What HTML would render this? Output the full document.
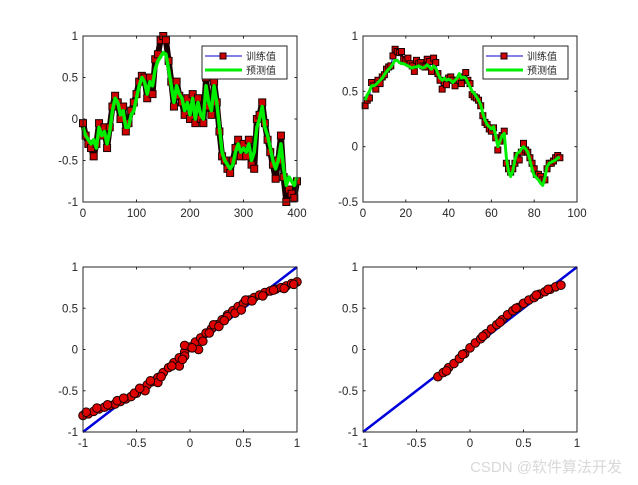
<!DOCTYPE html>
<html><head><meta charset="utf-8">
<style>
html,body{margin:0;padding:0;background:#fff;}
svg{display:block;font-family:"Liberation Sans","Noto Sans CJK SC",sans-serif;}
</style></head>
<body>
<svg id="fig" width="638" height="485" viewBox="0 0 638 485">
<rect width="638" height="485" fill="#fff"/>
<text x="622" y="472" text-anchor="end" font-size="15" fill="#d8d8d8">CSDN @软件算法开发</text>
</svg>
<script>
// ---- data ----
const tlT = [0,5,10,15,20,25,30,35,40,45,50,55,60,65,70,75,80,85,90,95,100,105,110,115,120,125,130,135,140,145,150,155,160,165,170,175,180,185,190,195,200,205,210,215,220,225,230,235,240,245,250,255,260,265,270,275,280,285,290,295,300,305,310,315,320,325,330,335,340,345,350,355,360,365,370,375,380,385,390,395,400];
const tlActual = [-0.05,-0.2,-0.3,-0.35,-0.45,-0.3,-0.05,-0.2,-0.1,-0.35,-0.1,0.15,0.28,0.2,0.0,0.15,-0.15,-0.05,0.1,0.2,0.3,0.45,0.52,0.5,0.25,0.5,0.3,0.72,0.78,0.95,1.0,0.95,0.7,0.45,0.15,0.45,0.28,0.2,0.05,0.25,0.0,0.3,-0.05,0.25,0.0,-0.05,0.5,0.15,0.05,0.45,0.2,-0.15,-0.45,-0.5,-0.6,-0.65,-0.5,-0.35,-0.25,-0.45,-0.3,-0.45,-0.25,-0.55,-0.6,0.0,0.05,0.2,-0.05,-0.25,-0.4,-0.55,-0.72,-0.5,-0.2,-0.7,-1.0,-0.85,-0.9,-0.95,-0.75];
const tlPred = [-0.1,-0.2,-0.25,-0.3,-0.25,-0.35,-0.1,-0.2,-0.15,-0.3,-0.15,0.1,0.25,0.2,0.05,0.1,-0.1,-0.1,0.05,0.1,0.25,0.4,0.5,0.45,0.3,0.45,0.4,0.6,0.7,0.75,0.8,0.78,0.6,0.4,0.2,0.4,0.3,0.25,0.1,0.2,0.05,0.25,0.0,0.2,0.05,0.0,0.4,0.2,0.1,0.4,0.2,-0.1,-0.4,-0.5,-0.55,-0.6,-0.55,-0.4,-0.3,-0.4,-0.35,-0.4,-0.3,-0.5,-0.4,-0.1,0.0,0.15,-0.1,-0.2,-0.35,-0.5,-0.6,-0.5,-0.3,-0.6,-0.8,-0.7,-0.75,-0.8,-0.7];
const trActual = [0.37,0.42,0.44,0.58,0.55,0.52,0.6,0.57,0.63,0.65,0.7,0.72,0.73,0.82,0.88,0.86,0.85,0.86,0.79,0.78,0.8,0.75,0.73,0.68,0.78,0.75,0.76,0.73,0.72,0.79,0.77,0.68,0.8,0.76,0.66,0.6,0.52,0.58,0.56,0.62,0.63,0.6,0.55,0.6,0.6,0.57,0.63,0.67,0.6,0.57,0.47,0.45,0.44,0.42,0.37,0.28,0.22,0.2,0.16,0.14,0.17,0.08,-0.03,0.05,0.1,0.14,-0.15,-0.2,-0.23,-0.2,-0.15,-0.08,-0.12,-0.05,0.03,-0.03,-0.05,-0.1,-0.15,-0.2,-0.25,-0.25,-0.27,-0.3,-0.3,-0.2,-0.15,-0.15,-0.13,-0.1,-0.08,-0.1];
const trPred = [0.42,0.47,0.5,0.55,0.55,0.56,0.58,0.6,0.62,0.65,0.68,0.7,0.72,0.75,0.78,0.78,0.76,0.75,0.75,0.74,0.73,0.72,0.71,0.72,0.72,0.73,0.72,0.71,0.72,0.74,0.72,0.7,0.73,0.71,0.66,0.62,0.6,0.62,0.6,0.61,0.6,0.58,0.6,0.62,0.66,0.62,0.63,0.62,0.58,0.54,0.5,0.48,0.45,0.42,0.38,0.3,0.24,0.2,0.18,0.16,0.18,0.1,0.0,0.05,0.1,0.12,-0.1,-0.22,-0.27,-0.22,-0.12,-0.06,-0.05,-0.02,0.0,-0.02,-0.05,-0.12,-0.2,-0.26,-0.28,-0.3,-0.33,-0.35,-0.28,-0.18,-0.15,-0.14,-0.13,-0.12,-0.1,-0.1];
const blX = [-1,-0.95,-0.9,-0.85,-0.8,-0.75,-0.7,-0.65,-0.6,-0.55,-0.5,-0.45,-0.4,-0.35,-0.3,-0.25,-0.2,-0.15,-0.1,-0.05,0,0.05,0.1,0.15,0.2,0.25,0.3,0.35,0.4,0.45,0.5,0.55,0.6,0.65,0.7,0.75,0.8,0.85,0.9,0.95,1.0,-0.42,-0.3,-0.1,-0.05,0.08,0.22,0.35,0.52,-0.68,-0.05,-0.97,-0.87,-0.77,-0.62,-0.52,-0.47,-0.37,-0.27,-0.17,-0.07,0.02,0.12,0.18,0.27,0.32,0.42,0.48,0.58,0.68,0.78,0.88,0.97];
const blY = [-0.8,-0.78,-0.75,-0.72,-0.7,-0.68,-0.66,-0.63,-0.6,-0.57,-0.53,-0.48,-0.43,-0.39,-0.34,-0.28,-0.22,-0.16,-0.1,-0.03,0.03,0.09,0.14,0.2,0.25,0.3,0.36,0.42,0.47,0.52,0.56,0.6,0.63,0.66,0.69,0.71,0.73,0.75,0.77,0.8,0.82,-0.5,-0.4,-0.2,0.05,0.0,0.3,0.4,0.6,-0.62,-0.08,-0.76,-0.71,-0.67,-0.59,-0.53,-0.47,-0.38,-0.33,-0.2,-0.12,0.02,0.1,0.2,0.28,0.35,0.44,0.48,0.59,0.65,0.72,0.74,0.79];
const brX = [-0.3,-0.25,-0.2,-0.15,-0.1,-0.05,0,0.05,0.1,0.15,0.2,0.25,0.3,0.35,0.4,0.45,0.5,0.55,0.6,0.65,0.7,0.75,0.8,0.85,-0.22,-0.07,0.12,0.28,0.43,0.62,0.73];
const brY = [-0.33,-0.28,-0.22,-0.17,-0.11,-0.05,0.02,0.08,0.13,0.19,0.25,0.3,0.36,0.42,0.47,0.51,0.56,0.6,0.63,0.67,0.7,0.73,0.76,0.78,-0.26,-0.06,0.16,0.33,0.5,0.66,0.73];
const tlXTicks = [0,100,200,300,400];
const tlYTicks = [-1,-0.5,0,0.5,1];
const trXTicks = [0,20,40,60,80,100];
const trYTicks = [-0.5,0,0.5,1];
const bXTicks = [-1,-0.5,0,0.5,1];
const bYTicks = [-1,-0.5,0,0.5,1];

const NS='http://www.w3.org/2000/svg';
const svg=document.getElementById('fig');
function mk(tag,attrs,parent){const e=document.createElementNS(NS,tag);for(const k in attrs)e.setAttribute(k,attrs[k]);(parent||svg).appendChild(e);return e;}

function makeAxes(name,x0,x1,y0,y1,xmin,xmax,ymin,ymax,xt,yt){
  const g=mk('g',{});
  
  
  const sx=v=>x0+(v-xmin)/(xmax-xmin)*(x1-x0);
  const sy=v=>y1-(v-ymin)/(ymax-ymin)*(y1-y0);
  const plot=mk('g',{},g);
  const frame=mk('g',{},g);
  mk('rect',{x:x0,y:y0,width:x1-x0,height:y1-y0,fill:'none',stroke:'#262626','stroke-width':1},frame);
  xt.forEach(v=>{const x=sx(v);
    mk('line',{x1:x,x2:x,y1:y1,y2:y1-2.5,stroke:'#262626'},frame);
    mk('line',{x1:x,x2:x,y1:y0,y2:y0+2.5,stroke:'#262626'},frame);
    const t=mk('text',{x:x,y:y1+15,'text-anchor':'middle','font-size':11.5,fill:'#262626'},frame);t.textContent=String(v);
    
    
  });
  yt.forEach(v=>{const y=sy(v);
    mk('line',{x1:x0,x2:x0+2.5,y1:y,y2:y,stroke:'#262626'},frame);
    mk('line',{x1:x1,x2:x1-2.5,y1:y,y2:y,stroke:'#262626'},frame);
    const t=mk('text',{x:x0-5,y:y+4,'text-anchor':'end','font-size':11.5,fill:'#262626'},frame);t.textContent=String(v);
    
    
  });
  return {sx,sy,plot,g};
}
function poly(ax,xs,ys,color,w,name){
  const p=mk('polyline',{points:xs.map((x,i)=>ax.sx(x)+','+ax.sy(ys[i])).join(' '),fill:'none',stroke:color,'stroke-width':w,'stroke-linejoin':'round'},ax.plot);
  
  
}
function squares(ax,xs,ys,name,s){
  xs.forEach((x,i)=>{const r=mk('rect',{x:ax.sx(x)-s/2,y:ax.sy(ys[i])-s/2,width:s,height:s,fill:'#d00000',stroke:'#1a0000','stroke-width':1},ax.plot);
    
    });
}
function circles(ax,xs,ys,name){
  xs.forEach((x,i)=>{const c=mk('circle',{cx:ax.sx(x),cy:ax.sy(ys[i]),r:4.3,fill:'#e00000',stroke:'#1a0000','stroke-width':1},ax.plot);
    
    });
}
function legend(x,y,name){
  const g=mk('g',{});
  
  
  mk('rect',{x:x,y:y,width:85,height:33,fill:'#fff',stroke:'#262626'},g);
  mk('line',{x1:x+3,x2:x+40,y1:y+10,y2:y+10,stroke:'#0000cc','stroke-width':1},g);
  mk('rect',{x:x+18,y:y+7,width:6,height:6,fill:'#d00000',stroke:'#1a0000'},g);
  const t1=mk('text',{x:x+44,y:y+14,'font-size':10,fill:'#262626'},g);t1.textContent='训练值';
  
  
  mk('line',{x1:x+3,x2:x+40,y1:y+24,y2:y+24,stroke:'#00ee00','stroke-width':3},g);
  const t2=mk('text',{x:x+44,y:y+28,'font-size':10,fill:'#262626'},g);t2.textContent='预测值';
  
  
}

// top-left
const a1=makeAxes('train-series-axes',83,297,36,202,0,400,-1,1,tlXTicks,tlYTicks);
poly(a1,tlT,tlActual,'#1a0000',6,'actual-band');
squares(a1,tlT,tlActual,'actual-marker',7);
poly(a1,tlT,tlPred,'#00ee00',3.5,'predicted-line');
legend(202,46,'legend-train');

// top-right
const trT=trActual.map((_,i)=>i+1);
const a2=makeAxes('test-series-axes',363,577,36,202,0,100,-0.5,1,trXTicks,trYTicks);
poly(a2,trT,trActual,'#0000cc',1,'actual-line');
squares(a2,trT,trActual,'actual-marker',6);
poly(a2,trT,trPred,'#00ee00',3,'predicted-line');
legend(483,46,'legend-test');

// bottom-left
const a3=makeAxes('train-scatter-axes',83,297,267,432,-1,1,-1,1,bXTicks,bYTicks);
poly(a3,[-1,1],[-1,1],'#0000dd',2.5,'identity-line');
circles(a3,blX,blY,'scatter-point');

// bottom-right
const a4=makeAxes('test-scatter-axes',363,577,267,432,-1,1,-1,1,bXTicks,bYTicks);
poly(a4,[-1,1],[-1,1],'#0000dd',2.5,'identity-line');
circles(a4,brX,brY,'scatter-point');
</script>
</body></html>
